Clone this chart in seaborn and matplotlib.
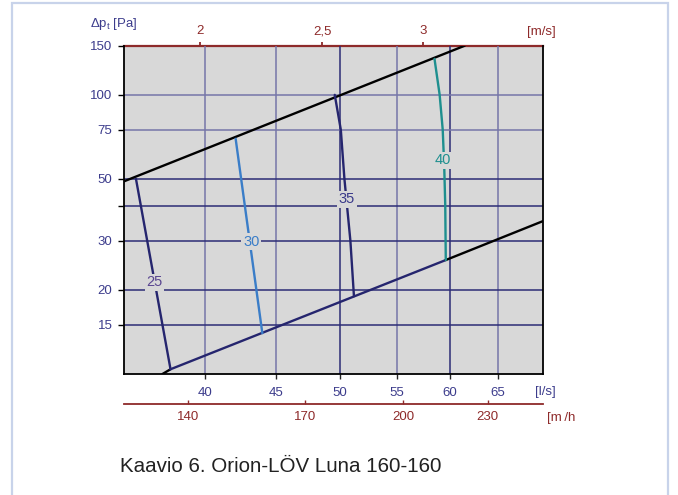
import matplotlib
matplotlib.use("Agg")
import matplotlib.pyplot as plt
import matplotlib.patches as mpatches
from matplotlib.ticker import FixedLocator, FixedFormatter, NullLocator
import pandas as pd
import seaborn as sns

# ---- data -------------------------------------------------------------
# operating range limits (q in l/s, pressure drop in Pa)
upper_q = [35.0, 61.5]
upper_p = [49.0, 150.0]
lower_q = [37.3, 37.8, 59.6, 70.0]
lower_p = [10.0, 10.4, 25.6, 35.3]

# sound level curves, dB(A)
curve_25_q = [35.7, 37.8]
curve_25_p = [50.0, 10.4]
curve_30_q = [42.1, 44.0]
curve_30_p = [69.6, 14.0]
curve_35_q = [49.6, 50.1, 50.4, 50.9, 51.2]
curve_35_p = [100.0, 75.0, 50.0, 30.0, 19.0]
curve_40_q = [58.5, 59.0, 59.3, 59.45, 59.55, 59.6]
curve_40_p = [134.5, 100.0, 75.0, 55.0, 40.0, 25.6]

curve_labels = ["25", "30", "35", "40"]
label_q = [36.8, 43.2, 50.6, 59.3]
label_p = [21.3, 29.8, 42.2, 58.3]

# axes ticks
flow_ticks = [40, 45, 50, 55, 60, 65]
pressure_ticks = [15, 20, 30, 40, 50, 75, 100, 150]
pressure_labels = ["15", "20", "30", "", "50", "75", "100", "150"]
m3h_ticks = [140, 170, 200, 230]
velocity_labels = ["2", "2,5", "3"]
velocity_flow = [39.7, 48.6, 57.4]

# ---- style ------------------------------------------------------------
sns.set_theme(style="white")
plt.rcParams["font.family"] = ["Liberation Sans", "DejaVu Sans"]

NAVY = "#25256e"
BLUE = "#3a7dc8"
TEAL = "#1e8f8f"
RED = "#8e2a2a"
TXT_NAVY = "#3c3c8c"
BG = "#d8d8d8"
GRID_DARK = "#2c2c76"
GRID_LIGHT = "#7676a8"
TICK_FS = 9.5

fig = plt.figure(figsize=(6.78, 4.95), dpi=100)
ax = fig.add_axes([124 / 678, 1 - 374 / 495, 419 / 678, 328.3 / 495])
ax.set_facecolor(BG)
ax.set_xscale("log")
ax.set_yscale("log")
ax.set_xlim(35, 70)
ax.set_ylim(10, 150)


def draw(q, p, color, lw=1.7, z=3):
    df = pd.DataFrame({"q": q, "p": p})
    sns.lineplot(data=df, x="q", y="p", ax=ax, color=color, lw=lw,
                 sort=False, estimator=None, zorder=z)


draw(upper_q, upper_p, "black")
seg_colors = ["black", NAVY, "black"]
for i, c in enumerate(seg_colors):
    draw(lower_q[i:i + 2], lower_p[i:i + 2], c)
draw(curve_25_q, curve_25_p, NAVY)
draw(curve_30_q, curve_30_p, BLUE)
draw(curve_35_q, curve_35_p, NAVY)
draw(curve_40_q, curve_40_p, TEAL)

label_colors = ["#5a4690", BLUE, "#3a3a8a", TEAL]
for t, q, p, c in zip(curve_labels, label_q, label_p, label_colors):
    ax.text(q, p, t, color=c, fontsize=10.5, ha="center", va="center", zorder=5,
            bbox=dict(facecolor=BG, edgecolor="none", pad=1.2))

ax.set_xlabel("")
ax.set_ylabel("")

# ticks and grid
ax.xaxis.set_major_locator(FixedLocator(flow_ticks))
ax.xaxis.set_major_formatter(FixedFormatter([str(v) for v in flow_ticks]))
ax.xaxis.set_minor_locator(NullLocator())
ax.yaxis.set_major_locator(FixedLocator(pressure_ticks))
ax.yaxis.set_major_formatter(FixedFormatter(pressure_labels))
ax.yaxis.set_minor_locator(NullLocator())
ax.tick_params(axis="x", which="major", direction="out", length=3.6, width=1.0,
               pad=6, labelsize=TICK_FS, labelcolor=TXT_NAVY, bottom=True)
ax.tick_params(axis="y", which="major", direction="out", length=4.3, width=1.0,
               pad=4, labelsize=TICK_FS, labelcolor=TXT_NAVY, left=True, color="black")
ax.grid(True, which="major", lw=1.1)
ax.set_axisbelow(True)
for v, gl, tk in zip(flow_ticks, ax.xaxis.get_gridlines(), ax.xaxis.get_major_ticks()):
    dark = v in (50, 60)
    gl.set_color(GRID_DARK if dark else GRID_LIGHT)
    tk.tick1line.set_color("black" if dark else GRID_LIGHT)
for v, gl in zip(pressure_ticks, ax.yaxis.get_gridlines()):
    gl.set_color(GRID_LIGHT if v in (75, 100) else GRID_DARK)
    if v == 150:
        gl.set_visible(False)

for s in ("left", "bottom", "right"):
    ax.spines[s].set_color("black")
    ax.spines[s].set_linewidth(1.3)
    ax.spines[s].set_visible(True)
ax.spines["top"].set_visible(False)

# velocity axis on top
top = ax.secondary_xaxis("top")
top.xaxis.set_major_locator(FixedLocator(velocity_flow))
top.xaxis.set_major_formatter(FixedFormatter(velocity_labels))
top.xaxis.set_minor_locator(NullLocator())
top.tick_params(axis="x", direction="out", length=3, width=1.3, color=RED,
                labelcolor=RED, labelsize=TICK_FS, pad=3.2)
top.spines["top"].set_color(RED)
top.spines["top"].set_linewidth(1.6)

# air flow in m3/h below the l/s axis
m3h = ax.secondary_xaxis(-30 / 328.3, functions=(lambda q: q * 3.6, lambda v: v / 3.6))
m3h.xaxis.set_major_locator(FixedLocator(m3h_ticks))
m3h.xaxis.set_major_formatter(FixedFormatter([str(v) for v in m3h_ticks]))
m3h.xaxis.set_minor_locator(NullLocator())
m3h.tick_params(axis="x", direction="in", length=3, width=1.0, color=RED,
                labelcolor=RED, labelsize=TICK_FS, pad=5)
m3h.spines["bottom"].set_color(RED)
m3h.spines["bottom"].set_linewidth(1.3)

# unit labels
fig.text(90 / 678, 1 - 24 / 495, "Δp$_\\mathregular{t}$ [Pa]", color=TXT_NAVY,
         fontsize=TICK_FS, ha="left", va="center")
fig.text(527 / 678, 1 - 32 / 495, "[m/s]", color=RED, fontsize=TICK_FS, ha="left", va="center")
fig.text(535 / 678, 1 - 392 / 495, "[l/s]", color=TXT_NAVY, fontsize=TICK_FS, ha="left", va="center")
fig.text(547 / 678, 1 - 418 / 495, "[m\u2009/h", color=RED, fontsize=TICK_FS, ha="left", va="center")

fig.text(120 / 678, 1 - 466 / 495, "Kaavio 6. Orion-LÖV Luna 160-160", color="#222222",
         fontsize=14.8, ha="left", va="center")

# page frame
frame = mpatches.Rectangle((12 / 678, -0.05), 656 / 678, 1.05 - 3 / 495,
                           transform=fig.transFigure, fill=False,
                           edgecolor="#c8d3ea", lw=1.6, zorder=0)
fig.patches.append(frame)

fig.savefig("out.png", dpi=100)
